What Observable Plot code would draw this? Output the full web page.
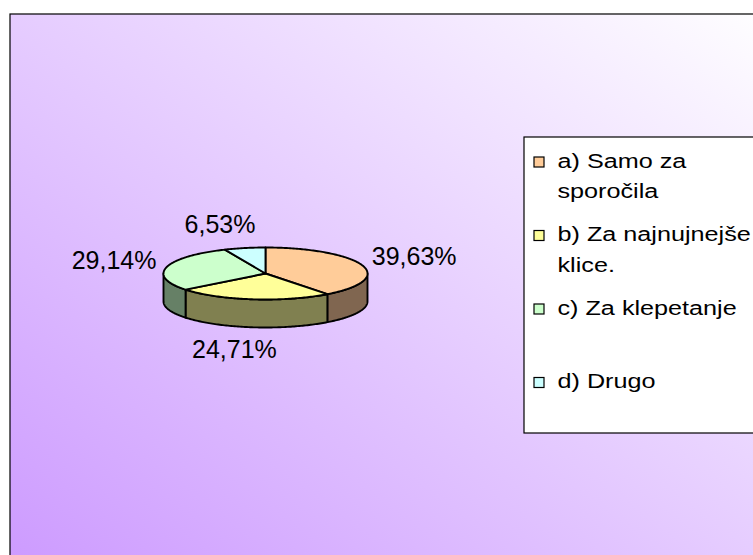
<!DOCTYPE html>
<html>
<head>
<meta charset="utf-8">
<script src="https://cdn.jsdelivr.net/npm/d3@7"></script>
<script src="https://cdn.jsdelivr.net/npm/@observablehq/plot@0.6"></script>
<style>
  html, body { margin: 0; padding: 0; background: #ffffff; }
  svg { display: block; }
</style>
</head>
<body>
<div id="chart"></div>
<script>
// ---- Data ----
const categories = ["a", "b", "c", "d"];
const legendLines = [
  ["a) Samo za", "sporočila"],
  ["b) Za najnujnejše", "klice."],
  ["c) Za klepetanje"],
  ["d) Drugo"]
];
const values = [39.63, 24.71, 29.14, 6.53];
const valueLabels = ["39,63%", "24,71%", "29,14%", "6,53%"];
const topColors = ["#FFCC99", "#FFFF99", "#CCFFCC", "#CCFFFF"];
const sideColors = ["#806650", "#808050", "#668066", "#668080"];

// ---- Layout (styling / geometry constants) ----
const W = 753, H = 555;
const pie = {cx: 265, cy: 273, rx: 102, ry: 26, depth: 28};
const lab = {A: 155, p: 0.77, B: 50, D: 27};
const area = {x1: 10, y1: 14, x2: 780, y2: 580};
const legendBox = {x1: 524, y1: 137, x2: 790, y2: 433};
const legend = {swX: 534, swSize: 10, textX: 557, firstBase: 167, step: 73.5, lineH: 30.5, fontSize: 21, stretch: 1.2};

// ---- Geometry from data ----
const total = d3.sum(values);
let acc = 0;
const slices = values.map((v, i) => {
  const start = acc / total * 2 * Math.PI;
  acc += v;
  const end = acc / total * 2 * Math.PI;
  return {i, start, end, mid: (start + end) / 2};
});
const pt = (t, dy = 0) => ({x: pie.cx + pie.rx * Math.sin(t), y: pie.cy - pie.ry * Math.cos(t) + dy});
const arc = (a, b, dy) => {
  const n = Math.max(2, Math.ceil(Math.abs(b - a) / (Math.PI / 180)));
  return d3.range(n + 1).map(k => pt(a + (b - a) * k / n, dy));
};

const topRows = [];
const sideRows = [];
for (const s of slices) {
  topRows.push({id: s.i, fill: topColors[s.i], x: pie.cx, y: pie.cy});
  for (const p of arc(s.start, s.end, 0)) topRows.push({id: s.i, fill: topColors[s.i], ...p});
  const a = Math.max(s.start, Math.PI / 2), b = Math.min(s.end, 3 * Math.PI / 2);
  if (a < b) {
    for (const p of arc(a, b, 0)) sideRows.push({id: s.i, fill: sideColors[s.i], ...p});
    for (const p of arc(b, a, pie.depth)) sideRows.push({id: s.i, fill: sideColors[s.i], ...p});
  }
}

const labelRows = slices.map(s => {
  const sn = Math.sin(s.mid), cs = Math.cos(s.mid);
  return {
    text: valueLabels[s.i],
    x: pie.cx + lab.A * Math.sign(sn) * Math.pow(Math.abs(sn), lab.p),
    y: pie.cy - lab.B * cs + (cs < 0 ? -cs * lab.D : 0)
  };
});

const legendText = [];
const swatches = [];
legendLines.forEach((lines, i) => {
  const base = legend.firstBase + i * legend.step;
  swatches.push({fill: topColors[i], x1: legend.swX, x2: legend.swX + legend.swSize,
                 y1: base - 10, y2: base - 10 + legend.swSize});
  lines.forEach((t, j) => legendText.push({text: t, x: legend.textX, y: base + j * legend.lineH - 0.32 * legend.fontSize}));
});

// ---- Plot ----
const svg = Plot.plot({
  width: W, height: H,
  margin: 0,
  x: {type: "identity", axis: null},
  y: {type: "identity", axis: null},
  color: {type: "identity"},
  style: {background: "transparent", fontFamily: "'Liberation Sans', Arial, sans-serif"},
  marks: [
    Plot.rect([area], {x1: "x1", x2: "x2", y1: "y1", y2: "y2", fill: "url(#bgGrad)", stroke: "#000", strokeWidth: 1.2}),
    Plot.line(sideRows, {x: "x", y: "y", z: "id", fill: "fill", stroke: "#000", strokeWidth: 1.9, curve: "linear-closed", strokeLinejoin: "round"}),
    Plot.line(topRows, {x: "x", y: "y", z: "id", fill: "fill", stroke: "#000", strokeWidth: 1.9, curve: "linear-closed", strokeLinejoin: "round"}),
    Plot.text(labelRows, {x: "x", y: "y", text: "text", fontSize: 25, textAnchor: "middle", fill: "#000"}),
    Plot.rect([legendBox], {x1: "x1", x2: "x2", y1: "y1", y2: "y2", fill: "#fff", stroke: "#000", strokeWidth: 1.2}),
    Plot.rect(swatches, {x1: "x1", x2: "x2", y1: "y1", y2: "y2", fill: "fill", stroke: "#000", strokeWidth: 1.2}),
    Plot.text(legendText, {x: "x", y: "y", text: "text", fontSize: legend.fontSize, textAnchor: "start", fill: "#000"})
  ]
});

// gradient background definition
const ns = "http://www.w3.org/2000/svg";
const defs = document.createElementNS(ns, "defs");
defs.innerHTML = '<linearGradient id="bgGrad" x1="0" y1="1" x2="1" y2="0">' +
  '<stop offset="0" stop-color="#CC99FF"/><stop offset="1" stop-color="#FFFFFF"/></linearGradient>';
svg.insertBefore(defs, svg.firstChild);

// legend text is horizontally stretched in the reference
const legendSet = new Set(legendText.map(d => d.text));
svg.querySelectorAll("text").forEach(t => {
  if (!legendSet.has(t.textContent)) return;
  const tr = t.getAttribute("transform") || "";
  const m = /translate\(\s*([-\d.e]+)[ ,]+([-\d.e]+)\s*\)/.exec(tr);
  if (m) {
    t.setAttribute("transform", `translate(${m[1]},${m[2]}) scale(${legend.stretch},1)`);
  } else {
    const x = +t.getAttribute("x") || 0;
    t.setAttribute("transform", `translate(${x * (1 - legend.stretch)},0) scale(${legend.stretch},1)`);
  }
});

document.getElementById("chart").appendChild(svg);
</script>
</body>
</html>
